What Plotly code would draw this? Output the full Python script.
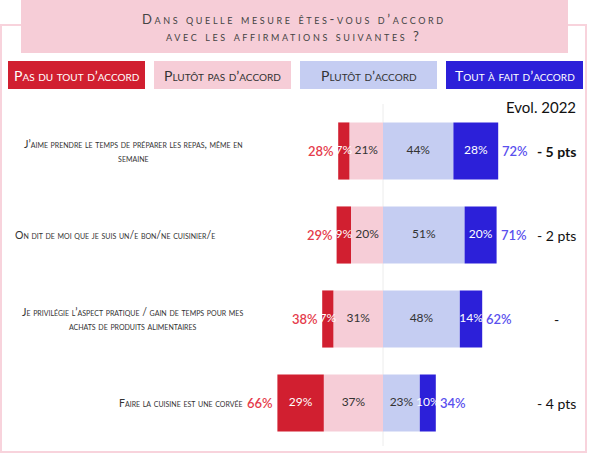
import plotly.graph_objects as go

# Survey data (percent)
statements = [
    "J’aime prendre le temps de préparer les repas, même en<br>semaine",
    "On dit de moi que je suis un/e bon/ne cuisinier/e",
    "Je privilégie l’aspect pratique / gain de temps pour mes<br>achats de produits alimentaires",
    "Faire la cuisine est une corvée",
]
pas_du_tout = [7, 9, 7, 29]
plutot_pas = [21, 20, 31, 37]
plutot = [44, 51, 48, 23]
tout_a_fait = [28, 20, 14, 10]
total_desaccord = [28, 29, 38, 66]
total_accord = [72, 71, 62, 34]
evol_2022 = ["- 5 pts", "- 2 pts", "-", "- 4 pts"]
categories = ["Pas du tout d’accord", "Plutôt pas d’accord", "Plutôt d’accord", "Tout à fait d’accord"]

RED = "#d11f30"
PINK = "#f6cdd7"
LBLUE = "#c5cdf2"
DBLUE = "#2c20d9"
FONT = "Lato"
W, H = 590, 456

def px(x):
    return x / W

def py(y):
    return 1 - y / H

rows = list(range(len(statements)))

fig = go.Figure()
# negative side: stacked outward from zero
fig.add_bar(y=rows, x=[-v for v in plutot_pas], orientation="h", marker_color=PINK, name=categories[1])
fig.add_bar(y=rows, x=[-v for v in pas_du_tout], orientation="h", marker_color=RED, name=categories[0])
fig.add_bar(y=rows, x=plutot, orientation="h", marker_color=LBLUE, name=categories[2])
fig.add_bar(y=rows, x=tout_a_fait, orientation="h", marker_color=DBLUE, name=categories[3])
fig.update_traces(width=0.68, marker_line_width=0, showlegend=False, hoverinfo="skip")

# labels inside segments
seg_x, seg_y, seg_t, seg_c = [], [], [], []
for i in rows:
    segs = [
        (-(plutot_pas[i] + pas_du_tout[i]), pas_du_tout[i], "white"),
        (-plutot_pas[i], plutot_pas[i], "#333333"),
        (0, plutot[i], "#333333"),
        (plutot[i], tout_a_fait[i], "white"),
    ]
    for start, val, col in segs:
        seg_x.append(start + val / 2)
        seg_y.append(i)
        seg_t.append(f"{val}%")
        seg_c.append(col)
fig.add_scatter(x=seg_x, y=seg_y, text=seg_t, mode="text", textposition="middle center",
                textfont=dict(family=FONT, size=12, color=seg_c), showlegend=False, hoverinfo="skip")

annotations = []
for i in rows:
    left_edge = -(plutot_pas[i] + pas_du_tout[i])
    right_edge = plutot[i] + tout_a_fait[i]
    annotations.append(dict(x=left_edge, y=i, xref="x", yref="y", text=f"{total_desaccord[i]}%",
                            xanchor="right", yanchor="middle", xshift=-2, showarrow=False,
                            font=dict(family=FONT, size=13, color="#e53b4b", weight=600)))
    annotations.append(dict(x=right_edge, y=i, xref="x", yref="y", text=f"{total_accord[i]}%",
                            xanchor="left", yanchor="middle", xshift=2, showarrow=False,
                            font=dict(family=FONT, size=13, color="#5a50ee", weight=600)))
    annotations.append(dict(x=px(556), y=i, xref="paper", yref="y", text=evol_2022[i],
                            xanchor="center", yanchor="middle", showarrow=False,
                            font=dict(family=FONT, size=14, color="#111111",
                                      weight="bold" if i == 0 else "normal")))

# statement labels
label_pos = [(245, "right"), (217, "right"), (245, "right"), (245, "right")]
for i in rows:
    x_px, anchor = label_pos[i]
    annotations.append(dict(x=px(x_px), y=i, xref="paper", yref="y", text=statements[i],
                            xanchor=anchor, yanchor="middle", align="center", showarrow=False,
                            font=dict(family=FONT, size=10.5, color="#333333", variant="small-caps")))

# title
annotations.append(dict(x=px(294), y=py(28), xref="paper", yref="paper",
                        text="<span style='letter-spacing:2.6px'>Dans quelle mesure êtes-vous d’accord"
                             "<br>avec les affirmations suivantes ?</span>",
                        xanchor="center", yanchor="middle", showarrow=False, align="center",
                        font=dict(family=FONT, size=13, color="#444444", variant="small-caps")))

# legend boxes
legend_boxes = [(8, 145, RED, "white"), (154, 291, PINK, "#333333"),
                (300, 437, LBLUE, "#333333"), (446, 583, DBLUE, "white")]
shapes = [
    # outer frame
    dict(type="rect", xref="paper", yref="paper", x0=px(1), x1=px(586), y0=py(452), y1=py(25),
         line=dict(color="#f8d3dc", width=2), layer="below"),
    # title box
    dict(type="rect", xref="paper", yref="paper", x0=px(21), x1=px(568), y0=py(53), y1=py(0),
         fillcolor=PINK, line=dict(width=0), layer="below"),
    # zero line
    dict(type="line", xref="x", yref="paper", x0=0, x1=0, y0=py(446), y1=py(104),
         line=dict(color="#ececec", width=1), layer="below"),
]
for (x0, x1, fill, tcol), name in zip(legend_boxes, categories):
    shapes.append(dict(type="rect", xref="paper", yref="paper", x0=px(x0), x1=px(x1), y0=py(89), y1=py(61),
                       fillcolor=fill, line=dict(width=0), layer="below"))
    annotations.append(dict(x=px((x0 + x1) / 2), y=py(75), xref="paper", yref="paper", text=name,
                            xanchor="center", yanchor="middle", showarrow=False,
                            font=dict(family=FONT, size=14, color=tcol, variant="small-caps")))

annotations.append(dict(x=px(578), y=py(107), xref="paper", yref="paper", text="Evol. 2022",
                        xanchor="right", yanchor="middle", showarrow=False,
                        font=dict(family=FONT, size=15, color="#111111")))

# pixel-based axis ranges: x_px = 383 + 1.6 * value ; y_px = 151 + 84 * row
fig.update_layout(
    width=W, height=H, autosize=False,
    margin=dict(l=0, r=0, t=0, b=0),
    barmode="relative",
    plot_bgcolor="white", paper_bgcolor="white",
    xaxis=dict(range=[-383 / 1.6, (W - 383) / 1.6], visible=False, fixedrange=True),
    yaxis=dict(range=[(H - 151) / 84, -151 / 84], visible=False, fixedrange=True),
    shapes=shapes,
    annotations=annotations,
    font=dict(family=FONT),
)

# page has a default 8px body margin; drop it so the figure fills the window
fig.write_html("out.html", config={"displayModeBar": False},
               post_script="document.body.style.margin='0px';")
